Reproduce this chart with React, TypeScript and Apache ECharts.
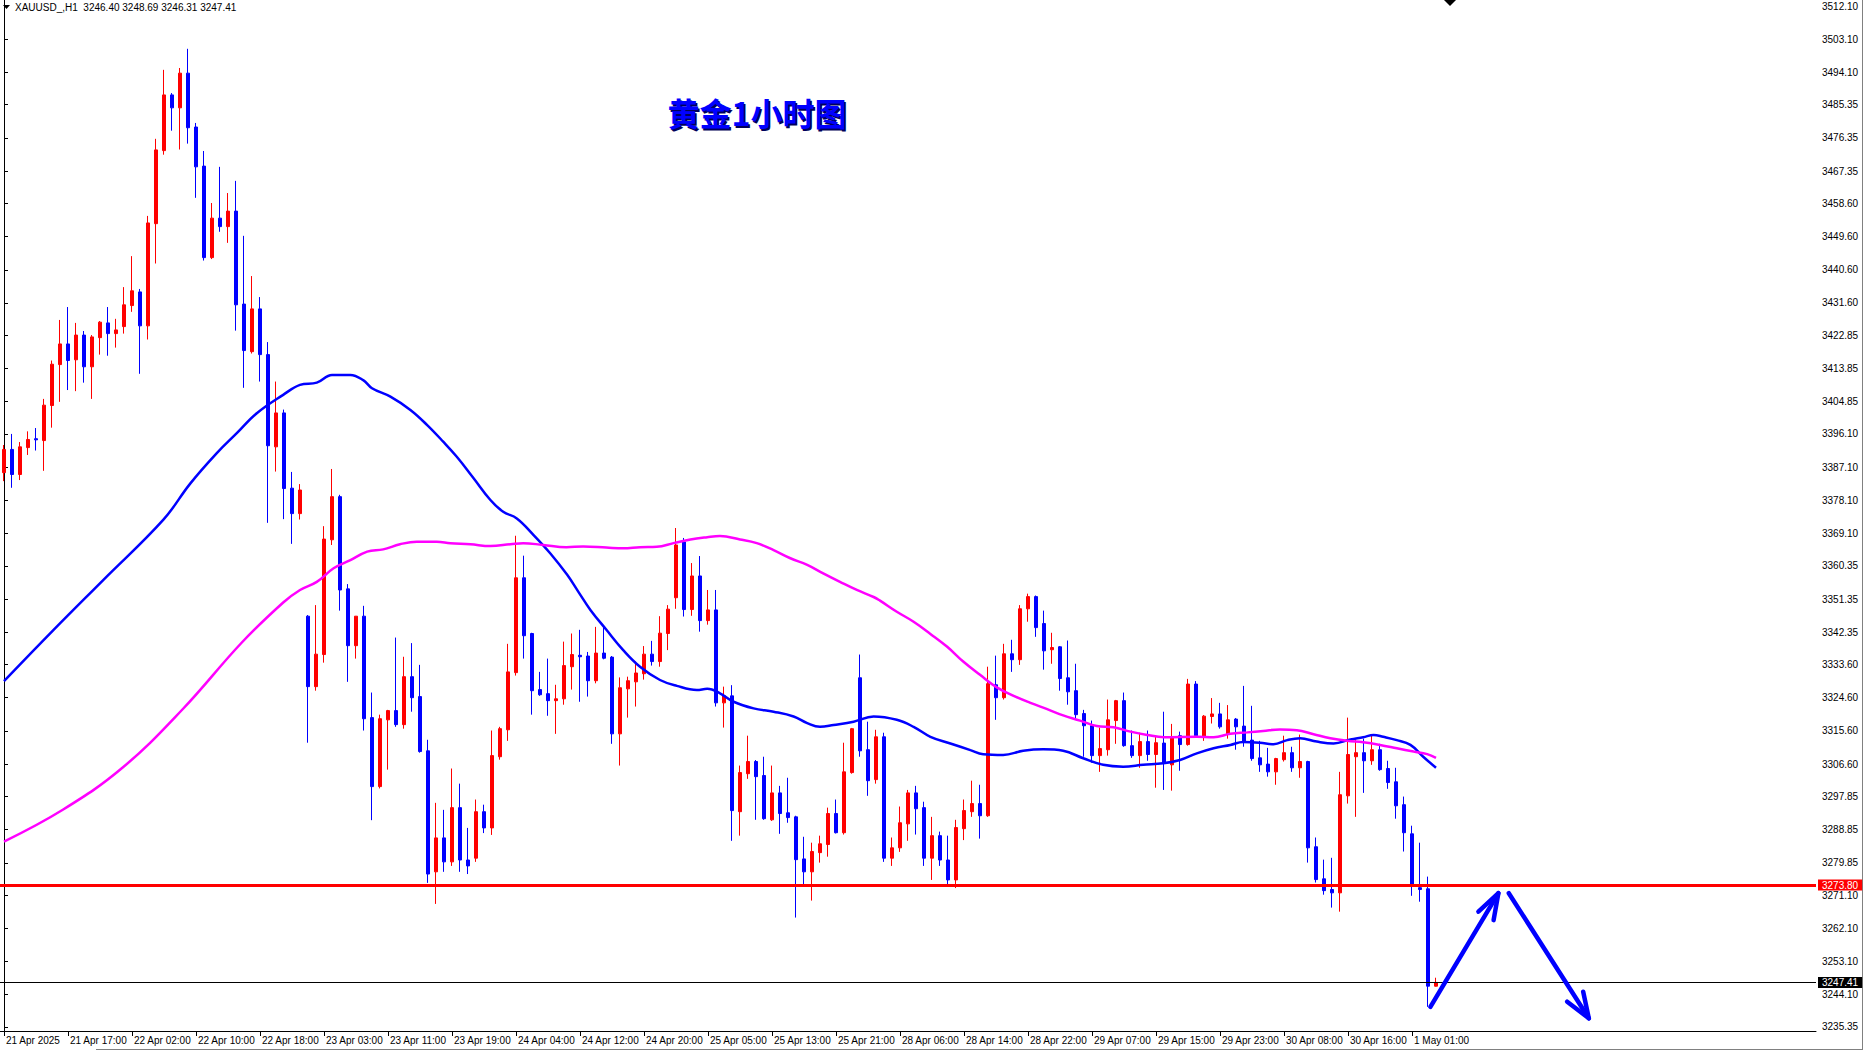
import React, { useEffect, useRef } from "react";
import * as echarts from "echarts";

// ---------- DATA (MT4 order: open, high, low, close) ----------
const apr21 = [
  [3385.6, 3393.1, 3383.3, 3391.9], [3391.9, 3396.1, 3381.5, 3385.1], [3385.1, 3393.9, 3383.6, 3392.6],
  [3392.4, 3396.8, 3390.4, 3394.6], [3394.8, 3397.7, 3391.6, 3394.5], [3394.3, 3405.6, 3386.1, 3403.9],
  [3403.8, 3416.0, 3397.8, 3415.0], [3414.9, 3427.0, 3404.8, 3420.5], [3420.5, 3430.5, 3408.0, 3416.0],
  [3416.2, 3426.2, 3407.7, 3422.9], [3422.9, 3424.0, 3410.0, 3414.3], [3414.3, 3422.9, 3405.6, 3422.4],
  [3422.2, 3426.7, 3417.6, 3426.4], [3426.2, 3430.5, 3417.3, 3423.3], [3423.3, 3427.3, 3419.5, 3424.3],
];
const apr22 = [
  [3425.2, 3435.9, 3423.3, 3431.1], [3430.9, 3444.3, 3429.2, 3434.9], [3434.6, 3435.4, 3412.4, 3425.4],
  [3425.4, 3455.2, 3421.7, 3453.3], [3453.1, 3476.1, 3442.3, 3473.1], [3472.9, 3494.8, 3471.8, 3488.0],
  [3488.0, 3488.5, 3478.3, 3484.5], [3484.5, 3495.3, 3473.2, 3493.9], [3493.9, 3500.5, 3474.8, 3479.1],
  [3479.3, 3480.4, 3460.1, 3468.5], [3468.7, 3472.8, 3443.1, 3443.9], [3443.9, 3458.7, 3443.5, 3454.6],
  [3454.6, 3468.5, 3450.9, 3452.3], [3452.3, 3461.4, 3447.9, 3456.5], [3456.5, 3464.7, 3424.1, 3431.1],
  [3431.3, 3449.8, 3408.6, 3418.7], [3418.4, 3438.9, 3417.9, 3430.0], [3430.0, 3433.2, 3410.3, 3417.6],
  [3417.6, 3421.0, 3372.0, 3392.9], [3392.6, 3410.3, 3385.9, 3401.8], [3401.8, 3402.7, 3373.0, 3381.3],
  [3381.4, 3385.8, 3366.3, 3374.5], [3374.5, 3382.5, 3372.9, 3380.9],
];
const apr23 = [
  [3346.7, 3347.0, 3312.4, 3327.6], [3327.6, 3349.7, 3326.5, 3336.4], [3336.3, 3371.1, 3334.1, 3367.6],
  [3367.4, 3386.6, 3366.0, 3379.1], [3379.1, 3379.6, 3348.2, 3353.8], [3354.1, 3355.4, 3328.9, 3338.7],
  [3338.7, 3346.7, 3335.2, 3346.7], [3346.7, 3349.5, 3315.7, 3318.9], [3319.2, 3326.0, 3291.4, 3300.5],
  [3300.5, 3320.0, 3300.0, 3318.9], [3318.6, 3321.3, 3305.1, 3321.1], [3321.1, 3340.9, 3316.7, 3317.3],
  [3317.3, 3335.7, 3316.2, 3330.3], [3330.3, 3339.4, 3320.8, 3324.6], [3324.9, 3333.5, 3309.7, 3310.0],
  [3310.2, 3313.2, 3274.4, 3276.8], [3277.4, 3296.1, 3268.7, 3286.6], [3286.6, 3294.2, 3277.4, 3280.1],
  [3280.1, 3305.4, 3279.0, 3294.8], [3294.8, 3301.3, 3277.4, 3280.6], [3280.6, 3289.3, 3276.8, 3279.0],
  [3281.1, 3297.0, 3280.1, 3293.7], [3293.7, 3295.6, 3287.9, 3289.3],
];
const apr24 = [
  [3289.3, 3315.7, 3287.4, 3308.9], [3308.6, 3316.7, 3307.8, 3316.2], [3315.9, 3339.2, 3312.9, 3331.6],
  [3331.4, 3368.5, 3330.6, 3357.1], [3357.1, 3363.1, 3335.2, 3341.4], [3342.0, 3342.2, 3320.0, 3326.5],
  [3326.8, 3331.6, 3325.1, 3325.4], [3325.7, 3335.2, 3319.7, 3323.8], [3323.8, 3328.1, 3314.8, 3324.3],
  [3324.3, 3339.8, 3322.7, 3333.3], [3333.0, 3342.0, 3326.8, 3336.3], [3336.1, 3343.0, 3323.5, 3335.7],
  [3335.9, 3337.0, 3324.9, 3329.2], [3329.2, 3343.8, 3328.5, 3336.7], [3336.7, 3344.0, 3335.0, 3335.3],
  [3335.6, 3335.9, 3312.1, 3314.8], [3314.8, 3330.1, 3306.2, 3327.3], [3327.0, 3330.3, 3319.2, 3329.2],
  [3328.9, 3334.4, 3322.2, 3331.3], [3331.1, 3338.6, 3329.5, 3336.4], [3336.4, 3340.0, 3333.3, 3334.4],
  [3334.4, 3346.7, 3333.0, 3342.1], [3342.0, 3349.7, 3337.5, 3348.6],
];
const apr25 = [
  [3351.7, 3370.6, 3348.7, 3366.0], [3366.8, 3367.9, 3346.6, 3348.5], [3348.5, 3361.1, 3346.8, 3357.6],
  [3357.6, 3363.0, 3342.5, 3345.5], [3345.5, 3353.8, 3344.4, 3348.4], [3348.4, 3353.8, 3322.2, 3323.2],
  [3323.2, 3327.6, 3316.5, 3325.1], [3325.1, 3328.0, 3285.8, 3294.0], [3293.7, 3306.2, 3287.2, 3304.3],
  [3304.0, 3314.3, 3302.6, 3307.3], [3307.3, 3307.7, 3291.5, 3303.2], [3303.5, 3308.6, 3291.5, 3291.8],
  [3291.5, 3306.2, 3291.2, 3298.8], [3298.8, 3300.7, 3287.7, 3293.2], [3293.4, 3302.9, 3290.7, 3292.1],
  [3292.3, 3292.6, 3265.0, 3280.7], [3280.9, 3286.9, 3273.4, 3277.4], [3277.4, 3285.3, 3269.6, 3282.9],
  [3282.6, 3287.2, 3279.9, 3285.0], [3284.8, 3294.8, 3281.5, 3293.2], [3293.2, 3297.0, 3287.8, 3288.0],
  [3288.0, 3312.4, 3287.5, 3304.5], [3304.3, 3316.4, 3304.0, 3316.2],
];
const apr28 = [
  [3330.0, 3336.3, 3308.6, 3310.2], [3310.5, 3318.1, 3298.0, 3302.1], [3302.4, 3315.9, 3301.3, 3314.0],
  [3314.0, 3315.1, 3280.1, 3281.1], [3281.1, 3286.7, 3279.0, 3283.9], [3283.9, 3295.1, 3282.8, 3290.7],
  [3290.4, 3299.6, 3285.8, 3298.8], [3298.8, 3300.7, 3287.5, 3294.5], [3294.8, 3296.4, 3279.0, 3281.1],
  [3281.1, 3292.3, 3275.2, 3287.2], [3287.2, 3288.3, 3279.0, 3280.6], [3280.6, 3287.2, 3273.6, 3275.2],
  [3275.2, 3291.5, 3273.0, 3289.4], [3289.1, 3297.0, 3286.0, 3294.0], [3293.7, 3302.1, 3292.3, 3295.9],
  [3295.9, 3301.0, 3286.4, 3292.6], [3292.6, 3333.0, 3292.3, 3328.4], [3328.1, 3336.0, 3318.6, 3324.6],
  [3324.6, 3339.2, 3324.1, 3336.5], [3336.5, 3340.3, 3331.6, 3334.9], [3334.9, 3349.7, 3333.5, 3348.7],
  [3348.7, 3352.8, 3345.2, 3352.0], [3352.0, 3352.3, 3341.1, 3343.6],
];
const apr29 = [
  [3344.7, 3348.2, 3332.2, 3337.3], [3337.6, 3342.2, 3333.8, 3338.2], [3338.4, 3338.6, 3326.5, 3329.8],
  [3330.0, 3340.1, 3322.7, 3326.2], [3326.5, 3333.8, 3318.9, 3320.0], [3320.3, 3321.3, 3308.6, 3317.0],
  [3317.0, 3318.4, 3307.0, 3308.9], [3308.9, 3316.5, 3304.5, 3310.8], [3310.5, 3324.1, 3308.9, 3318.6],
  [3318.4, 3324.0, 3312.1, 3323.8], [3323.8, 3326.0, 3311.3, 3311.6], [3311.6, 3315.7, 3308.3, 3308.9],
  [3308.9, 3315.1, 3305.6, 3312.7], [3312.7, 3315.7, 3307.5, 3309.2], [3309.2, 3314.0, 3300.2, 3312.4],
  [3312.3, 3320.8, 3299.6, 3306.8], [3306.4, 3317.5, 3299.4, 3314.0], [3314.3, 3315.4, 3304.8, 3311.9],
  [3311.9, 3329.7, 3311.6, 3328.3], [3328.3, 3329.1, 3314.0, 3314.3], [3314.0, 3319.9, 3312.9, 3319.6],
  [3319.5, 3324.5, 3317.6, 3320.2], [3320.2, 3323.2, 3316.2, 3316.7],
];
const apr30 = [
  [3314.8, 3322.6, 3313.5, 3318.6], [3318.8, 3319.1, 3310.5, 3316.7], [3316.9, 3327.8, 3311.3, 3312.7],
  [3313.1, 3322.4, 3307.5, 3308.1], [3308.3, 3312.9, 3304.5, 3306.4], [3306.6, 3311.0, 3303.2, 3304.5],
  [3304.5, 3308.3, 3301.0, 3308.1], [3307.8, 3314.3, 3307.3, 3309.7], [3309.7, 3311.3, 3304.5, 3305.6],
  [3305.6, 3314.6, 3302.9, 3307.3], [3307.3, 3307.5, 3279.9, 3283.9], [3284.2, 3286.7, 3274.5, 3275.3],
  [3275.5, 3280.7, 3271.2, 3272.3], [3272.6, 3281.2, 3267.7, 3271.7], [3271.7, 3304.5, 3266.6, 3298.3],
  [3298.0, 3319.2, 3295.9, 3309.2], [3308.6, 3313.2, 3292.3, 3309.7], [3309.7, 3313.5, 3298.8, 3307.5],
  [3307.5, 3314.6, 3306.4, 3310.5], [3310.5, 3312.1, 3304.8, 3305.1], [3305.4, 3307.5, 3299.9, 3301.6],
  [3301.8, 3305.6, 3291.8, 3295.3], [3295.6, 3297.8, 3282.9, 3288.0],
];
const may1 = [
  [3287.7, 3289.9, 3270.9, 3273.9], [3273.1, 3285.3, 3269.3, 3272.6], [3272.8, 3276.1, 3240.8, 3246.4],
  [3246.40, 3248.69, 3246.31, 3247.41],
];

// moving averages: [bar index, price]
const blueMA = [
  [0, 3329.1], [6.2, 3343.0], [12.4, 3356.5], [19.9, 3372.8], [23.3, 3382.7], [26.6, 3390.9],
  [29.1, 3396.3], [31.6, 3401.7], [34.9, 3406.7], [37.0, 3409.4], [39.1, 3410.0], [41.0, 3412.1],
  [43.3, 3412.1], [44.9, 3410.7], [46.0, 3408.5], [48.3, 3406.2], [50.8, 3402.6], [52.9, 3398.5],
  [54.9, 3394.0], [56.6, 3389.9], [58.7, 3384.1], [60.8, 3378.2], [62.4, 3375.0], [64.1, 3373.2],
  [66.2, 3368.7], [68.3, 3363.7], [70.4, 3357.9], [71.8, 3353.3], [73.3, 3348.4], [75.3, 3343.0],
  [77.4, 3337.5], [79.5, 3333.0], [82.0, 3329.4], [84.1, 3327.8], [86.6, 3326.7], [87.9, 3327.0],
  [89.5, 3325.8], [91.2, 3323.5], [93.7, 3321.7], [96.2, 3320.8], [98.7, 3319.5], [100.4, 3317.7],
  [102.0, 3316.7], [103.7, 3317.2], [106.2, 3318.1], [108.7, 3319.5], [111.6, 3318.6], [113.7, 3316.7],
  [115.8, 3314.0], [118.3, 3312.2], [120.8, 3310.4], [122.4, 3309.3], [124.9, 3309.1], [127.4, 3310.2],
  [129.9, 3310.6], [132.4, 3310.2], [134.9, 3308.2], [137.4, 3306.4], [139.9, 3305.9], [142.4, 3306.4],
  [144.9, 3306.8], [147.0, 3307.7], [149.1, 3309.5], [151.2, 3310.9], [153.3, 3311.8], [154.9, 3312.6],
  [157.0, 3312.4], [158.7, 3312.0], [160.4, 3313.1], [162.0, 3313.6], [164.1, 3312.7], [166.2, 3312.2],
  [168.3, 3313.3], [169.9, 3313.9], [171.2, 3314.5], [172.4, 3314.0], [174.1, 3313.1], [175.8, 3311.8],
  [177.4, 3308.6], [179, 3305.6],
];
const magentaMA = [
  [0, 3285.6], [7.4, 3294.3], [14.8, 3305.6], [22.3, 3321.4], [29.7, 3339.5], [34.9, 3350.4],
  [37.0, 3353.8], [39.1, 3356.0], [41.2, 3359.7], [43.3, 3361.9], [45.4, 3364.2], [47.4, 3364.8],
  [49.5, 3366.2], [51.6, 3366.9], [54.1, 3366.9], [55.8, 3366.5], [58.3, 3366.2], [60.8, 3365.7],
  [63.3, 3366.2], [64.9, 3366.5], [67.4, 3366.0], [70.3, 3365.4], [72.4, 3365.6], [75.3, 3365.3],
  [77.4, 3365.1], [79.5, 3365.4], [81.6, 3365.5], [83.7, 3366.5], [85.8, 3367.5], [87.9, 3368.1],
  [89.5, 3368.4], [92.0, 3367.5], [94.1, 3366.5], [96.2, 3364.6], [98.3, 3362.4], [100.4, 3360.6],
  [102.4, 3358.3], [104.5, 3356.0], [106.6, 3353.8], [108.7, 3351.9], [109.5, 3350.9], [111.6, 3347.9],
  [113.7, 3345.2], [115.8, 3341.9], [117.9, 3338.4], [119.9, 3334.4], [122.0, 3330.8], [124.1, 3327.4],
  [126.2, 3325.1], [128.3, 3323.2], [130.4, 3321.5], [132.4, 3319.8], [134.5, 3318.4], [136.6, 3316.9],
  [138.7, 3316.6], [140.8, 3315.4], [142.9, 3314.5], [145.0, 3313.9], [149.1, 3314.0], [151.2, 3313.9],
  [153.3, 3314.8], [155.4, 3315.2], [157.4, 3315.6], [159.5, 3316.0], [161.6, 3315.8], [163.7, 3314.7],
  [165.8, 3313.6], [167.9, 3312.9], [169.9, 3312.5], [172.0, 3311.8], [174.1, 3310.9], [176.2, 3310.0],
  [177.9, 3309.3], [179, 3308.3],
];

const yTickValues = [
  3512.10, 3503.10, 3494.10, 3485.35, 3476.35, 3467.35, 3458.60, 3449.60, 3440.60, 3431.60, 3422.85,
  3413.85, 3404.85, 3396.10, 3387.10, 3378.10, 3369.10, 3360.35, 3351.35, 3342.35, 3333.60, 3324.60,
  3315.60, 3306.60, 3297.85, 3288.85, 3279.85, 3271.10, 3262.10, 3253.10, 3244.10, 3235.35,
];
const xTickLabels = [
  "21 Apr 2025", "21 Apr 17:00", "22 Apr 02:00", "22 Apr 10:00", "22 Apr 18:00", "23 Apr 03:00",
  "23 Apr 11:00", "23 Apr 19:00", "24 Apr 04:00", "24 Apr 12:00", "24 Apr 20:00", "25 Apr 05:00",
  "25 Apr 13:00", "25 Apr 21:00", "28 Apr 06:00", "28 Apr 14:00", "28 Apr 22:00", "29 Apr 07:00",
  "29 Apr 15:00", "29 Apr 23:00", "30 Apr 08:00", "30 Apr 16:00", "1 May 01:00",
];
const supportLevel = 3273.8;
const lastPrice = 3247.41;
const arrowUp = [[178.3, 3240.8], [186.8, 3271.6]];
const arrowUpHead = [[184.3, 3266.6], [186.8, 3271.6], [186.2, 3264.3]];
const arrowDown = [[188.1, 3271.6], [198.1, 3237.7]];
const arrowDownHead = [[195.4, 3242.2], [198.1, 3237.7], [197.4, 3244.9]];

const TITLE = "黄金1小时图";
const SYMBOL = "XAUUSD_,H1";
const TOTAL_SLOTS = 227;
const LABEL_EVERY = 8;
const Y_MIN = 3234.25;
const Y_MAX = 3513.73;

const candles = [...apr21, ...apr22, ...apr23, ...apr24, ...apr25, ...apr28, ...apr29, ...apr30, ...may1];

const MONTHS = ["Jan", "Feb", "Mar", "Apr", "May", "Jun", "Jul", "Aug", "Sep", "Oct", "Nov", "Dec"];
function buildTimes(n: number): string[] {
  const out: string[] = [];
  let t = Date.UTC(2025, 3, 21, 9);
  while (out.length < n) {
    const d = new Date(t);
    const h = d.getUTCHours();
    const wd = d.getUTCDay();
    if (h !== 0 && wd !== 0 && wd !== 6) {
      out.push(`${d.getUTCDate()} ${MONTHS[d.getUTCMonth()]} ${String(h).padStart(2, "0")}:00`);
    }
    t += 3600000;
  }
  return out;
}
const categories = buildTimes(TOTAL_SLOTS);

const FONT = '"Liberation Sans", Arial, sans-serif';

export default function App() {
  const ref = useRef<HTMLDivElement | null>(null);
  useEffect(() => {
    if (!ref.current) return;
    const chart = echarts.init(ref.current, undefined, { renderer: "svg" });
    const n = candles.length;
    const showTick = (i: number) => i % LABEL_EVERY === 0 && i < n;
    const last = candles[n - 1];
    const header = `${SYMBOL}  ${last.map((v) => v.toFixed(2)).join(" ")}`;
    const arrowStyle = { color: "#0000ff", width: 4.5, cap: "round", join: "round" };
    const arrowSeries = (data: number[][]) => ({
      type: "line",
      xAxisIndex: 1,
      data,
      showSymbol: false,
      symbol: "none",
      lineStyle: arrowStyle,
      z: 10,
      silent: true,
    });
    chart.setOption({
      animation: false,
      backgroundColor: "#ffffff",
      textStyle: { fontFamily: FONT },
      grid: { left: -3.5, right: 50, top: 0, bottom: 26, containLabel: false },
      xAxis: [
        {
          type: "category",
          data: categories,
          boundaryGap: true,
          axisLine: { show: true, lineStyle: { color: "#000000", width: 1 } },
          axisTick: {
            show: true,
            alignWithLabel: true,
            length: 5,
            interval: (i: number) => showTick(i),
            lineStyle: { color: "#000000" },
          },
          axisLabel: {
            interval: (i: number) => showTick(i),
            formatter: (_v: string, i: number) => (showTick(i) ? xTickLabels[i / LABEL_EVERY] : ""),
            align: "left",
            margin: 4,
            padding: [0, 0, 0, 2],
            fontSize: 10,
            color: "#000000",
            fontFamily: FONT,
          },
          splitLine: { show: false },
        },
        { type: "value", min: -0.5, max: TOTAL_SLOTS - 0.5, show: false },
      ],
      yAxis: {
        type: "value",
        position: "right",
        min: Y_MIN,
        max: Y_MAX,
        axisLine: { show: true, lineStyle: { color: "#000000", width: 1 } },
        axisTick: { show: true, length: 4, customValues: yTickValues, lineStyle: { color: "#000000" } },
        axisLabel: {
          customValues: yTickValues,
          formatter: (v: number) => v.toFixed(2),
          margin: 6,
          fontSize: 10,
          color: "#000000",
          fontFamily: FONT,
        },
        splitLine: { show: false },
      },
      series: [
        {
          type: "candlestick",
          xAxisIndex: 0,
          data: candles.map(([o, h, l, c]) => [o, c, l, h]),
          barWidth: 4,
          itemStyle: {
            color: "#ff0000",
            color0: "#0000ff",
            borderColor: "#ff0000",
            borderColor0: "#0000ff",
            borderWidth: 1,
          },
          markLine: {
            silent: true,
            symbol: ["none", "none"],
            animation: false,
            z: 8,
            data: [
              {
                yAxis: supportLevel,
                lineStyle: { color: "#ff0000", width: 3, type: "solid" },
                label: {
                  show: true,
                  position: "end",
                  distance: 2,
                  formatter: () => supportLevel.toFixed(2),
                  backgroundColor: "#ff0000",
                  color: "#ffffff",
                  padding: [1, 4, 0, 4],
                  fontSize: 10,
                  fontFamily: FONT,
                },
              },
              {
                yAxis: lastPrice,
                lineStyle: { color: "#000000", width: 1, type: "solid" },
                label: {
                  show: true,
                  position: "end",
                  distance: 2,
                  formatter: () => lastPrice.toFixed(2),
                  backgroundColor: "#000000",
                  color: "#ffffff",
                  padding: [1, 4, 0, 4],
                  fontSize: 10,
                  fontFamily: FONT,
                },
              },
            ],
          },
        },
        {
          type: "line",
          xAxisIndex: 1,
          data: blueMA,
          smooth: 0.4,
          showSymbol: false,
          symbol: "none",
          lineStyle: { color: "#0000ff", width: 2.5 },
          z: 5,
          silent: true,
        },
        {
          type: "line",
          xAxisIndex: 1,
          data: magentaMA,
          smooth: 0.4,
          showSymbol: false,
          symbol: "none",
          lineStyle: { color: "#ff00ff", width: 2.5 },
          z: 5,
          silent: true,
        },
        arrowSeries(arrowUp),
        arrowSeries(arrowUpHead),
        arrowSeries(arrowDown),
        arrowSeries(arrowDownHead),
      ],
      graphic: [
        { type: "polygon", shape: { points: [[3, 5], [10, 5], [6.5, 9]] }, style: { fill: "#000000" } },
        {
          type: "text",
          x: 15,
          y: 7,
          style: { text: header, fill: "#000000", fontSize: 10, fontFamily: FONT, verticalAlign: "middle" },
        },
        {
          type: "text",
          x: 758.5,
          y: 113.5,
          style: {
            text: TITLE,
            fill: "#00005a",
            fontSize: 32,
            fontWeight: "bold",
            fontFamily: '"Noto Sans CJK SC", sans-serif',
            align: "center",
            verticalAlign: "middle",
          },
        },
        {
          type: "text",
          x: 757,
          y: 112,
          style: {
            text: TITLE,
            fill: "#0000ff",
            fontSize: 32,
            fontWeight: "bold",
            fontFamily: '"Noto Sans CJK SC", sans-serif',
            align: "center",
            verticalAlign: "middle",
          },
        },
        { type: "polygon", shape: { points: [[1444, 0], [1456, 0], [1450, 6]] }, style: { fill: "#000000" } },
        { type: "line", shape: { x1: 1862.5, y1: 0, x2: 1862.5, y2: 1050 }, style: { stroke: "#808080", lineWidth: 1 } },
        { type: "line", shape: { x1: 96, y1: 1049.5, x2: 1862, y2: 1049.5 }, style: { stroke: "#808080", lineWidth: 1 } },
      ],
    });
    return () => chart.dispose();
  }, []);
  return (
    <div
      ref={ref}
      style={{ position: "fixed", left: 0, top: 0, width: 1866, height: 1057, background: "#ffffff" }}
    />
  );
}
